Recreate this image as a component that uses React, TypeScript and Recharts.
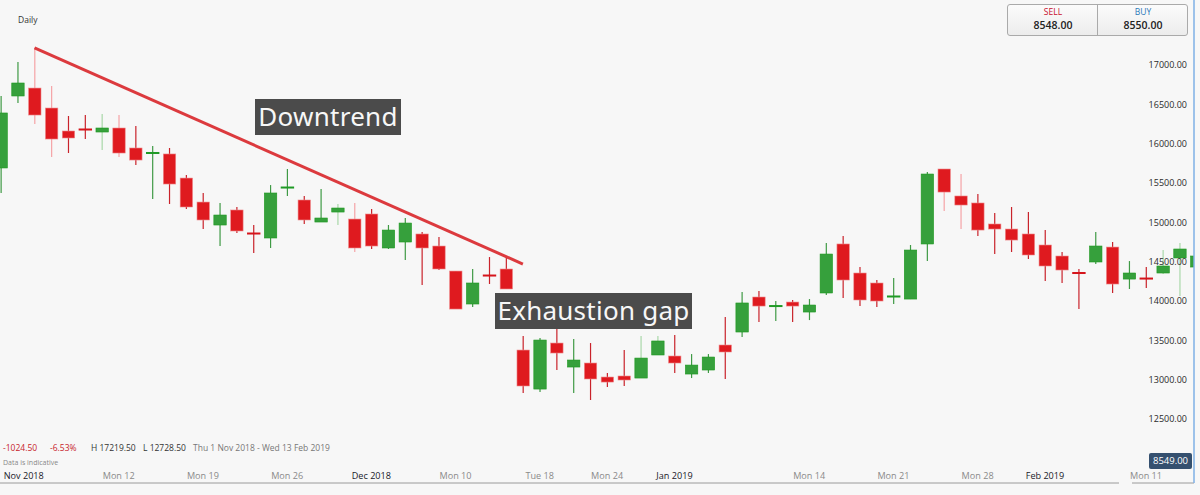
import { Bar, ComposedChart, Line, XAxis, YAxis } from 'recharts'

const opens = [15691, 16606, 16707, 16453, 16161, 16186, 16148, 16199, 15945, 15869, 15869, 15563, 15258, 14966, 15157, 14864, 14801, 15436, 15284, 15004, 15131, 15042, 15106, 14674, 14750, 14852, 14699, 14381, 13962, 14330, 14407, 13377, 12881, 13466, 13161, 13212, 13034, 13047, 13021, 13314, 13301, 13072, 13123, 13441, 13606, 14051, 13932, 13987, 13860, 14102, 14725, 14356, 14229, 14051, 14025, 14725, 15678, 15335, 15246, 14979, 14915, 14852, 14712, 14572, 14369, 14496, 14686, 14279, 14292, 14356, 14547, 14432]
const closes = [16390, 16771, 16364, 16059, 16072, 16174, 16199, 15881, 15792, 15894, 15487, 15195, 15030, 15093, 14890, 14852, 15373, 15449, 15030, 15055, 15182, 14674, 14699, 14902, 14991, 14674, 14407, 13898, 14229, 14318, 14153, 12920, 13504, 13339, 13250, 13009, 12970, 12996, 13275, 13492, 13212, 13186, 13288, 13352, 13975, 13936, 13940, 13936, 13949, 14597, 14267, 14013, 14000, 14064, 14648, 15614, 15385, 15220, 14902, 14915, 14775, 14585, 14445, 14394, 14343, 14699, 14216, 14356, 14279, 14445, 14661, 14572]
const highs = [16606, 17038, 17216, 16733, 16352, 16364, 16377, 16364, 16224, 15970, 15945, 15602, 15373, 15246, 15195, 14966, 15474, 15678, 15335, 15424, 15233, 15246, 15169, 14966, 15055, 14877, 14813, 14381, 14407, 14559, 14559, 13555, 13530, 13657, 13517, 13466, 13085, 13377, 13555, 13555, 13568, 13326, 13326, 13797, 14114, 14127, 14000, 14013, 14025, 14737, 14826, 14432, 14267, 14292, 14712, 15640, 15678, 15614, 15360, 15119, 15195, 15131, 14902, 14623, 14407, 14877, 14750, 14508, 14432, 14648, 14737, 14585]
const lows = [15373, 16517, 16250, 15830, 15881, 16059, 15919, 15830, 15729, 15297, 15233, 15169, 14915, 14699, 14864, 14610, 14674, 15335, 14979, 15004, 14966, 14623, 14661, 14661, 14521, 14203, 14394, 13898, 13924, 14216, 14153, 12831, 12843, 13123, 12831, 12742, 12907, 12920, 13021, 13314, 13085, 13021, 13085, 13009, 13542, 13733, 13746, 13733, 13758, 14076, 14038, 13936, 13924, 13962, 14025, 14508, 15144, 14915, 14826, 14597, 14623, 14534, 14254, 14229, 13898, 14470, 14102, 14153, 14165, 14343, 14064, 14432]

const priceTicks = [12500, 13000, 13500, 14000, 14500, 15000, 15500, 16000, 16500, 17000]
const dateTicks = [1.36, 7, 12, 17, 22, 27, 32, 36, 40, 48, 53, 58, 62, 68]
const dateLabels = ['Nov 2018', 'Mon 12', 'Mon 19', 'Mon 26', 'Dec 2018', 'Mon 10', 'Tue 18', 'Mon 24', 'Jan 2019', 'Mon 14', 'Mon 21', 'Mon 28', 'Feb 2019', 'Mon 11']

const trendFrom = 2
const trendTo = 31
const trendStart = 17216
const trendEnd = 14470

// wicks that come out washed out in the screenshot
const paleWicks = [2, 3, 6, 7, 20, 21, 38, 39, 56, 57, 69, 70]

const data = opens.map((open, i) => ({
  i,
  open,
  close: closes[i],
  high: highs[i],
  low: lows[i],
  trend: i === trendFrom ? trendStart : i === trendTo ? trendEnd : null,
}))

function Candle(props: any) {
  const { x, y, width, height, payload } = props
  const { open, close, high, low, i } = payload
  const up = close >= open
  const pxPerUnit = height / (high - low)
  const top = y + (high - Math.max(open, close)) * pxPerUnit
  const bodyH = Math.abs(open - close) * pxPerUnit
  const cx = x + width / 2
  const pale = paleWicks.includes(i)
  const wick = up ? (pale ? '#a9d8a9' : '#3f9a45') : pale ? '#f5a3a6' : '#c9232b'
  const fill = up ? '#36a03c' : '#df1a1f'
  const edge = up ? '#1d981f' : '#ee8a8c'
  const doji = bodyH < 3
  return (
    <g>
      <line x1={cx} x2={cx} y1={y} y2={y + height} stroke={wick} strokeWidth={1.2} />
      {doji ? (
        <rect x={x} y={top + bodyH / 2 - 1} width={width} height={2} fill={up ? '#1f9a25' : '#d5141b'} />
      ) : (
        <rect x={x + 0.5} y={top} width={width - 1} height={bodyH} fill={fill} stroke={edge} strokeWidth={0.6} />
      )}
    </g>
  )
}

function DateTick(props: any) {
  const { x, payload } = props
  const label = dateLabels[dateTicks.indexOf(payload.value)]
  const isMonth = !label.startsWith('Mon') && !label.startsWith('Tue')
  return (
    <text x={x} y={479} textAnchor="middle" fontSize={9.1} fontFamily="Open Sans" fill={isMonth ? '#1a1a2a' : '#8a8a8a'}>
      {label}
    </text>
  )
}

const box = {
  position: 'absolute' as const,
  background: '#4b4b4b',
  color: '#f7f7f7',
  fontFamily: 'Noto Sans',
  fontSize: 26,
  letterSpacing: 0.25,
  lineHeight: '34px',
  textAlign: 'center' as const,
  whiteSpace: 'nowrap' as const,
  boxSizing: 'border-box' as const,
}

const small = {
  position: 'absolute' as const,
  fontFamily: 'Open Sans',
  fontSize: 8.5,
  lineHeight: '10px',
  whiteSpace: 'nowrap' as const,
}

const quote = {
  position: 'absolute' as const,
  top: 0,
  width: 90,
  textAlign: 'center' as const,
  fontFamily: 'Open Sans',
}

export default function App() {
  return (
    <div style={{ position: 'absolute', left: 0, top: 0, width: 1200, height: 495, overflow: 'hidden', background: '#f7f7f7' }}>
      <ComposedChart width={1200} height={495} data={data} margin={{ top: 0, right: 6, bottom: 12, left: 0 }}>
        <XAxis
          dataKey="i"
          type="number"
          domain={[-0.05, 70.85]}
          allowDataOverflow
          ticks={dateTicks}
          interval={0}
          tick={<DateTick />}
          tickLine={false}
          axisLine={{ stroke: '#9a9a9a' }}
          height={1}
          mirror
        />
        <YAxis
          type="number"
          orientation="right"
          mirror
          width={1}
          domain={[11687, 17826]}
          allowDataOverflow
          ticks={priceTicks}
          interval={0}
          tickFormatter={(v: number) => v.toFixed(2)}
          tick={{ fontSize: 9, fontFamily: 'Open Sans', fill: '#2a2a2a' }}
          tickLine={false}
          tickSize={0}
          tickMargin={7}
          axisLine={{ stroke: '#7fb0e6', strokeWidth: 1.5 }}
        />
        <Bar dataKey={(d: any) => [d.low, d.high]} barSize={13.4} shape={<Candle />} isAnimationActive={false} />
        <Line dataKey="trend" connectNulls dot={false} activeDot={false} stroke="#dc3a3e" strokeWidth={3} isAnimationActive={false} />
      </ComposedChart>

      <div style={{ ...small, left: 18, top: 15, color: '#333' }}>Daily</div>

      <div style={{ ...box, left: 255, top: 99, width: 146, height: 36 }}>Downtrend</div>
      <div style={{ ...box, left: 495, top: 293, width: 197, height: 36 }}>Exhaustion gap</div>

      <div style={{ ...small, left: 3, top: 443, color: '#c8242c' }}>-1024.50</div>
      <div style={{ ...small, left: 50, top: 443, color: '#c8242c' }}>-6.53%</div>
      <div style={{ ...small, left: 91, top: 443, color: '#333' }}>H 17219.50</div>
      <div style={{ ...small, left: 143, top: 443, color: '#333' }}>L 12728.50</div>
      <div style={{ ...small, left: 193, top: 443, color: '#777' }}>Thu 1 Nov 2018 - Wed 13 Feb 2019</div>
      <div style={{ ...small, left: 3, top: 458, fontSize: 7, color: '#888' }}>Data is indicative</div>

      <div style={{ position: 'absolute', left: 1119, top: 482, width: 13, height: 2, background: '#f7f7f7' }} />

      <div style={{ position: 'absolute', left: 1007, top: 4, width: 181, height: 32, boxSizing: 'border-box', border: '1px solid #aaa', borderRadius: 3, background: 'linear-gradient(#fbfbfb, #ececec)' }}>
        <div style={{ position: 'absolute', left: 89, top: 0, width: 1, height: 30, background: '#aaa' }} />
        <div style={{ ...quote, left: 0 }}>
          <div style={{ fontSize: 8.5, lineHeight: '12px', marginTop: 1, color: '#c8102e' }}>SELL</div>
          <div style={{ fontSize: 10.5, lineHeight: '14px', fontWeight: 600, color: '#222' }}>8548.00</div>
        </div>
        <div style={{ ...quote, left: 90 }}>
          <div style={{ fontSize: 8.5, lineHeight: '12px', marginTop: 1, color: '#2a78b8' }}>BUY</div>
          <div style={{ fontSize: 10.5, lineHeight: '14px', fontWeight: 600, color: '#222' }}>8550.00</div>
        </div>
      </div>

      <div style={{ position: 'absolute', left: 1149, top: 453, width: 43, height: 16, borderRadius: 2, background: '#35506f', color: '#fff', fontFamily: 'Open Sans', fontSize: 9.5, lineHeight: '16px', textAlign: 'center' }}>8549.00</div>
    </div>
  )
}
